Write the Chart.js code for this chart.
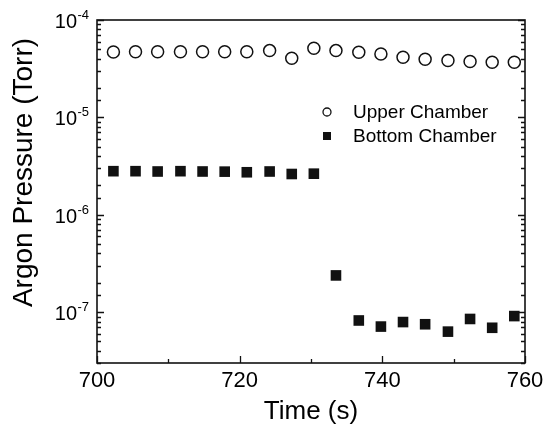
<!DOCTYPE html>
<html>
<head>
<meta charset="utf-8">
<script src="https://cdn.jsdelivr.net/npm/chart.js@4/dist/chart.umd.min.js"></script>
<style>
  html, body { margin: 0; padding: 0; background: #fff; }
</style>
</head>
<body>
<canvas id="chart" width="554" height="428"></canvas>
<script>
// sample times (s)
const times = [702.3, 705.4, 708.5, 711.7, 714.8, 717.9, 721.0, 724.2, 727.3, 730.4,
  733.5, 736.7, 739.8, 742.9, 746.0, 749.2, 752.3, 755.4, 758.5];

// argon pressure (Torr)
const upperChamber = [4.7e-5, 4.72e-5, 4.72e-5, 4.72e-5, 4.72e-5, 4.72e-5, 4.72e-5, 4.85e-5, 4.05e-5, 5.13e-5,
  4.85e-5, 4.67e-5, 4.48e-5, 4.15e-5, 3.96e-5, 3.83e-5, 3.74e-5, 3.68e-5, 3.68e-5];
const bottomChamber = [2.8e-6, 2.8e-6, 2.78e-6, 2.8e-6, 2.78e-6, 2.77e-6, 2.73e-6, 2.78e-6, 2.62e-6, 2.64e-6,
  2.38e-7, 8.2e-8, 7.1e-8, 7.9e-8, 7.5e-8, 6.3e-8, 8.5e-8, 6.9e-8, 9.1e-8];

const seriesLabels = ['Upper Chamber', 'Bottom Chamber'];
const xTickLabels = [700, 720, 740, 760];
const yTickDecades = [1e-4, 1e-5, 1e-6, 1e-7];
const yTitle = 'Argon Pressure (Torr)';

const FONT = "'Liberation Sans', Arial, Helvetica, sans-serif";
const INK = '#111';

const toPoints = values => times.map((t, i) => ({x: t, y: values[i]}));

// frame with inward ticks (left, right, bottom) and the y labels/title
const frame = {
  id: 'frame',
  afterDraw(chart) {
    const {ctx, chartArea: a, scales: {x, y}} = chart;
    ctx.save();
    ctx.strokeStyle = INK;
    ctx.lineWidth = 1.6;
    ctx.strokeRect(a.left, a.top, a.right - a.left, a.bottom - a.top);

    ctx.lineWidth = 1.3;
    ctx.beginPath();
    y.ticks.forEach(t => {
      const py = Math.round(y.getPixelForValue(t.value)) + 0.5;
      const len = yTickDecades.includes(t.value) ? 7 : 4;
      ctx.moveTo(a.left, py); ctx.lineTo(a.left + len, py);
      ctx.moveTo(a.right, py); ctx.lineTo(a.right - len, py);
    });
    x.ticks.forEach(t => {
      const px = Math.round(x.getPixelForValue(t.value)) + 0.5;
      const len = xTickLabels.includes(t.value) ? 7 : 4;
      ctx.moveTo(px, a.bottom); ctx.lineTo(px, a.bottom - len);
    });
    ctx.stroke();

    // y labels as 10 with raised exponent
    ctx.fillStyle = '#000';
    ctx.textBaseline = 'alphabetic';
    yTickDecades.forEach(v => {
      const py = y.getPixelForValue(v);
      const exp = String(Math.round(Math.log10(v)));
      const edge = a.left - 20;
      ctx.font = `13px ${FONT}`;
      ctx.textAlign = 'left';
      ctx.fillText(exp, edge + 0.5, py - 1);
      ctx.font = `20px ${FONT}`;
      ctx.textAlign = 'right';
      ctx.fillText('10', edge, py + 8);
    });

    // y title sits a little above the plot centre in the original
    ctx.translate(24, (a.top + a.bottom) / 2 - 19);
    ctx.rotate(-Math.PI / 2);
    ctx.font = `28px ${FONT}`;
    ctx.textAlign = 'center';
    ctx.textBaseline = 'middle';
    ctx.fillText(yTitle, 0, 0);
    ctx.restore();
  }
};

// legend inside the plot, upper right
const innerLegend = {
  id: 'innerLegend',
  afterDraw(chart) {
    const {ctx, chartArea: a} = chart;
    const mx = a.left + 230;
    const tx = a.left + 256;
    const rows = [a.top + 92, a.top + 116];
    ctx.save();
    ctx.strokeStyle = INK;
    ctx.fillStyle = INK;
    ctx.lineWidth = 1.3;
    ctx.beginPath();
    ctx.arc(mx, rows[0], 4, 0, Math.PI * 2);
    ctx.stroke();
    ctx.fillRect(mx - 4, rows[1] - 4, 8, 8);

    ctx.fillStyle = '#000';
    ctx.font = `19px ${FONT}`;
    ctx.textAlign = 'left';
    ctx.textBaseline = 'middle';
    seriesLabels.forEach((label, i) => ctx.fillText(label, tx, rows[i] + 1));
    ctx.restore();
  }
};

const config = {
  type: 'scatter',
  data: {
    datasets: [
      {
        label: seriesLabels[0],
        data: toPoints(upperChamber),
        pointStyle: 'circle',
        pointRadius: 6,
        borderWidth: 1.5,
        borderColor: INK,
        backgroundColor: 'rgba(255,255,255,0)',
      },
      {
        label: seriesLabels[1],
        data: toPoints(bottomChamber),
        pointStyle: 'rect',
        pointRadius: 7.5,
        borderWidth: 0,
        borderColor: INK,
        backgroundColor: INK,
      },
    ]
  },
  options: {
    responsive: false,
    animation: false,
    layout: {padding: {top: 20, right: 29, left: 0, bottom: 0}},
    plugins: {
      legend: {display: false},
      tooltip: {enabled: false},
    },
    scales: {
      x: {
        type: 'linear',
        min: 700,
        max: 760,
        afterFit: scale => { scale.height = 65; },
        grid: {display: false, drawTicks: false},
        border: {display: false},
        ticks: {
          stepSize: 10,
          autoSkip: false,
          maxRotation: 0,
          padding: 5,
          color: '#000',
          font: {family: FONT, size: 22},
          callback: v => xTickLabels.includes(v) ? String(v) : '',
        },
        title: {
          display: true,
          text: 'Time (s)',
          color: '#000',
          font: {family: FONT, size: 26},
          padding: {top: 0, bottom: 1},
        },
      },
      y: {
        type: 'logarithmic',
        min: 3e-8,
        max: 1e-4,
        afterFit: scale => { scale.width = 97; },
        grid: {display: false, drawTicks: false},
        border: {display: false},
        ticks: {display: false},
        title: {display: false},
      },
    }
  },
  plugins: [frame, innerLegend],
};

new Chart(document.getElementById('chart'), config);
</script>
</body>
</html>
